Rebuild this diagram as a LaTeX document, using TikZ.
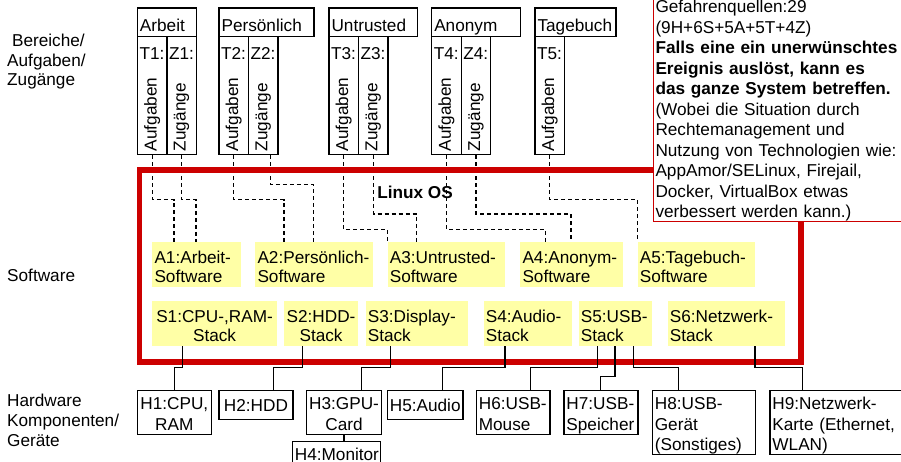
\documentclass[tikz,border=0pt]{standalone}
\usepackage{fontspec}
\setmainfont{Liberation Sans}
\definecolor{frred}{HTML}{CC0000}
\definecolor{ylw}{HTML}{FFFFA6}
\newcommand\myup[1]{\rule{0pt}{#1pt}}
\newcommand\mydn{\rule[-4pt]{0pt}{4pt}}
\begin{document}
\begin{tikzpicture}[x=1pt,y=-1pt,
  every node/.style={font=\fontsize{17.2}{20}\selectfont, inner sep=0pt, text=black},
  hdr/.style={draw, line width=1.3pt, anchor=north west, minimum height=28.7pt, text height=17.75pt, text depth=0pt, inner xsep=2.6pt, inner ysep=5.5pt, align=left},
  colbox/.style={draw, line width=1.3pt, anchor=north west, minimum width=29.5pt, minimum height=118pt},
  collbl/.style={anchor=base west},
  rotlbl/.style={rotate=90, anchor=west},
  ybox/.style={fill=ylw, anchor=north west, inner xsep=2.3pt, font=\fontsize{17.2}{19.5}\selectfont},
  hbox/.style={draw, line width=1.3pt, anchor=north west, inner xsep=2.5pt, font=\fontsize{17.2}{20.5}\selectfont},
  dashline/.style={line width=1.2pt, dash pattern=on 4pt off 3pt},
  conn/.style={line width=1.5pt},
  frame/.style={draw=frred, line width=5.5pt, anchor=north west},
  notebox/.style={draw=frred, fill=white, line width=1pt, anchor=south west, align=left, inner xsep=2.3pt, inner ysep=0pt, font=\fontsize{17.2}{20.5}\selectfont},
  sidelbl/.style={anchor=west, align=left}
]
\clip (0,0) rectangle (901,462);

% left labels
\node[sidelbl, font=\fontsize{17.2}{19.5}\selectfont] (lbA) at (7,62) {\hspace*{4.9pt}Bereiche/\\Aufgaben/\\Zugänge};
\node[sidelbl] (lbS) at (7,275) {Software};
\node[sidelbl] (lbH) at (7,420) {Hardware\\Komponenten/\\Geräte};

% header boxes
\node[hdr, text width=54.1pt] (arbeit) at (136.7,7.3) {Arbeit};
\node[hdr, text width=89.8pt] (pers) at (218.3,7.3) {Persönlich};
\node[hdr, text width=83.2pt] (untr) at (328.3,7.3) {Untrusted};
\node[hdr, text width=83.8pt] (anon) at (431,7.3) {Anonym};
\node[hdr, text width=75.8pt] (tageb) at (534.3,7.3) {Tagebuch};

% columns
\node[colbox] (t1) at (136.7,36) {};
\node[colbox] (z1) at (166.2,36) {};
\node[colbox] (t2) at (218.3,36) {};
\node[colbox] (z2) at (247.8,36) {};
\node[colbox] (t3) at (328.3,36) {};
\node[colbox] (z3) at (357.8,36) {};
\node[colbox] (t4) at (431,36) {};
\node[colbox] (z4) at (460.5,36) {};
\node[colbox] (t5) at (534.3,36) {};

\node[collbl] (t1l) at ([xshift=2.6pt,yshift=-23.3pt]t1.north west) {T1:};
\node[collbl] (z1l) at ([xshift=2.6pt,yshift=-23.3pt]z1.north west) {Z1:};
\node[collbl] (t2l) at ([xshift=2.6pt,yshift=-23.3pt]t2.north west) {T2:};
\node[collbl] (z2l) at ([xshift=2.6pt,yshift=-23.3pt]z2.north west) {Z2:};
\node[collbl] (t3l) at ([xshift=2.6pt,yshift=-23.3pt]t3.north west) {T3:};
\node[collbl] (z3l) at ([xshift=2.6pt,yshift=-23.3pt]z3.north west) {Z3:};
\node[collbl] (t4l) at ([xshift=2.6pt,yshift=-23.3pt]t4.north west) {T4:};
\node[collbl] (z4l) at ([xshift=2.6pt,yshift=-23.3pt]z4.north west) {Z4:};
\node[collbl] (t5l) at ([xshift=2.6pt,yshift=-23.3pt]t5.north west) {T5:};

\node[rotlbl] (t1r) at ([yshift=4pt]t1.south) {Aufgaben};
\node[rotlbl] (z1r) at ([yshift=4pt]z1.south) {Zugänge};
\node[rotlbl] (t2r) at ([yshift=4pt]t2.south) {Aufgaben};
\node[rotlbl] (z2r) at ([yshift=4pt]z2.south) {Zugänge};
\node[rotlbl] (t3r) at ([yshift=4pt]t3.south) {Aufgaben};
\node[rotlbl] (z3r) at ([yshift=4pt]z3.south) {Zugänge};
\node[rotlbl] (t4r) at ([yshift=4pt]t4.south) {Aufgaben};
\node[rotlbl] (z4r) at ([yshift=4pt]z4.south) {Zugänge};
\node[rotlbl] (t5r) at ([yshift=4pt]t5.south) {Aufgaben};

% software boxes
\node[ybox, minimum height=45pt, text width=84.1pt, align=left] (a1) at (152,241.7) {\myup{21}A1:Arbeit-\\Software\mydn};
\node[ybox, minimum height=45pt, text width=113.1pt, align=left] (a2) at (255,241.7) {\myup{21}A2:Persönlich-\\Software\mydn};
\node[ybox, minimum height=45pt, text width=113.1pt, align=left] (a3) at (387.3,241.7) {\myup{21}A3:Untrusted-\\Software\mydn};
\node[ybox, minimum height=45pt, text width=98.1pt, align=left] (a4) at (520,241.7) {\myup{21}A4:Anonym-\\Software\mydn};
\node[ybox, minimum height=45pt, text width=113.1pt, align=left] (a5) at (637.3,241.7) {\myup{21}A5:Tagebuch-\\Software\mydn};

\node[ybox, minimum height=44.7pt, minimum width=124.7pt, align=center] (s1) at (152,301) {\myup{21}S1:CPU-,RAM-\\Stack\mydn};
\node[ybox, minimum height=44.7pt, minimum width=73.7pt, align=center] (s2) at (284,301) {\myup{21}S2:HDD-\\Stack\mydn};
\node[ybox, minimum height=44.7pt, text width=97.8pt, align=left] (s3) at (365.3,301) {\myup{21}S3:Display-\\Stack\mydn};
\node[ybox, minimum height=44.7pt, text width=83.8pt, align=left] (s4) at (483.3,301) {\myup{21}S4:Audio-\\Stack\mydn};
\node[ybox, minimum height=44.7pt, text width=68.8pt, align=left] (s5) at (578.3,301) {\myup{21}S5:USB-\\Stack\mydn};
\node[ybox, minimum height=44.7pt, text width=112.8pt, align=left] (s6) at (667.3,301) {\myup{21}S6:Netzwerk-\\Stack\mydn};

% dashed connectors
\draw[dashline] (t1.south) -- ++(0,44.3) -| ([xshift=22pt]a1.north west);
\draw[dashline] (z1.south) -- ++(0,44.3) -| ([xshift=44pt]a1.north west);
\draw[dashline] (t2.south) -- ++(0,44.3) -| ([xshift=29pt]a2.north west);
\draw[dashline] ([xshift=7pt]z2.south) -- ++(0,29.3) -| ([xshift=58.3pt]a2.north west);
\draw[dashline] (t3.south) -- ++(0,74.3) -| ([xshift=0.3pt]a3.north west);
\draw[dashline] (z3.south) -- ++(0,58.7) -| ([xshift=29.4pt]a3.north west);
\draw[dashline] (t4.south) -- ++(0,74.3) -| ([xshift=25.7pt]a4.north west);
\draw[dashline] (z4.south) -- ++(0,58.7) -| ([xshift=51pt]a4.north west);
\draw[dashline] (t5.south) -- ++(0,44.3) -| ([xshift=0.5pt]a5.north west);

% Linux OS frame
\node[frame, minimum width=661.3pt, minimum height=191.5pt] (os) at (136.7,167.5) {};
\node[font=\fontsize{17.2}{20}\selectfont\bfseries] (oslbl) at (415,192.3) {Linux OS};

% note
\node[notebox, text width=265pt] (note) at (652.7,221.7) {\myup{20}Gefahrenquellen:29\\(9H+6S+5A+5T+4Z)\\\textbf{Falls eine ein unerwünschtes}\\\textbf{Ereignis auslöst, kann es}\\\textbf{das ganze System betreffen.}\\(Wobei die Situation durch\\Rechtemanagement und\\Nutzung von Technologien wie:\\AppAmor/SELinux, Firejail,\\Docker, VirtualBox etwas\\verbessert werden kann.)};

% hardware boxes
\node[hbox, minimum width=74pt, minimum height=44pt, align=center] (h1) at (136.7,390) {\myup{19}H1:CPU,\\RAM\mydn};
\node[hbox, minimum width=74pt, minimum height=29pt, align=center] (h2) at (218.3,390) {H2:HDD};
\node[hbox, minimum width=74pt, minimum height=44pt, align=center] (h3) at (306,390) {\myup{19}H3:GPU-\\Card\mydn};
\node[hbox, minimum height=26pt, text width=83.3pt, align=left] (h4) at (291.7,441) {H4:Monitor};
\node[hbox, minimum width=74.3pt, minimum height=29pt, align=center] (h5) at (386.7,390) {H5:Audio};
\node[hbox, minimum height=44pt, text width=68.6pt, align=left] (h6) at (475.7,390) {\myup{19}H6:USB-\\Mouse\mydn};
\node[hbox, minimum height=44pt, text width=69pt, align=left] (h7) at (563.3,390) {\myup{19}H7:USB-\\Speicher\mydn};
\node[hbox, minimum height=58.3pt, text width=98.3pt, align=left] (h8) at (651.7,390) {\myup{19}H8:USB-\\Gerät\\(Sonstiges)\mydn};
\node[hbox, minimum height=58.3pt, text width=128pt, align=left] (h9) at (769.3,390) {\myup{19}H9:Netzwerk-\\Karte (Ethernet,\\WLAN)\mydn};

% solid connectors
\draw[conn] ([xshift=30.7pt]s1.south west) -- ++(0,21.6) -| (h1.north);
\draw[conn] ([xshift=18.7pt]s2.south west) -- ++(0,21.6) -| ([xshift=55pt]h2.north west);
\draw[conn] ([xshift=25.4pt]s3.south west) -- ++(0,21.6) -| ([xshift=55.7pt]h3.north west);
\draw[conn] ([xshift=21.7pt]s4.south west) -- ++(0,21.6) -| ([xshift=56pt]h5.north west);
\draw[conn] ([xshift=19pt]s5.south west) -- ++(0,21.6) -| ([xshift=55pt]h6.north west);
\draw[conn] ([xshift=36.7pt]s5.south west) -- ++(0,30.3) -| ([xshift=37.4pt]h7.north west);
\draw[conn] ([xshift=55pt]s5.south west) -- ++(0,21.6) -| ([xshift=26.6pt]h8.north west);
\draw[conn] ([xshift=87.7pt]s6.south west) -- ++(0,21.6) -| ([xshift=33pt]h9.north west);
\draw[conn] (h3.south) -- (h3.south |- h4.north);
\end{tikzpicture}
\end{document}
